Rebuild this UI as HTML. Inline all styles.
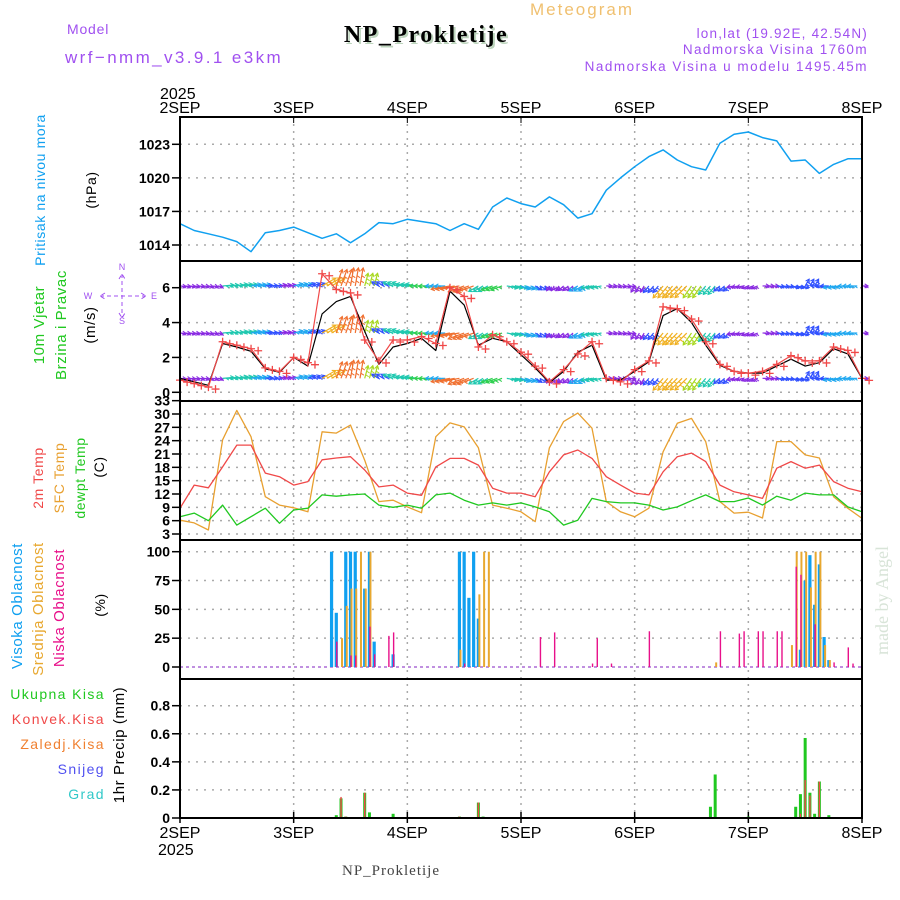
<!DOCTYPE html>
<html><head><meta charset="utf-8"><style>
html,body{margin:0;padding:0;background:#fff;}
svg{display:block;font-family:"Liberation Sans",sans-serif;}
</style></head><body>
<svg id="chart" width="900" height="900" viewBox="0 0 900 900" xmlns="http://www.w3.org/2000/svg">
<text x="582" y="15" fill="#f0c070" font-size="17" text-anchor="middle" letter-spacing="2">Meteogram</text>
<text x="67" y="34" fill="#a050f0" font-size="14" letter-spacing="0.8">Model</text>
<text x="428" y="44" fill="#bcd4bc" font-size="24" font-weight="bold" text-anchor="middle" letter-spacing="1.5" font-family="Liberation Serif,serif">NP_Prokletije</text>
<text x="426" y="42" fill="#000" font-size="24" font-weight="bold" text-anchor="middle" letter-spacing="1.5" font-family="Liberation Serif,serif">NP_Prokletije</text>
<text x="65" y="63" fill="#a050f0" font-size="17" letter-spacing="2.4">wrf−nmm_v3.9.1 e3km</text>
<text x="868" y="38" fill="#a050f0" font-size="13.5" text-anchor="end" letter-spacing="1.2">lon,lat (19.92E, 42.54N)</text>
<text x="868" y="54" fill="#a050f0" font-size="13.5" text-anchor="end" letter-spacing="1.4">Nadmorska Visina 1760m</text>
<text x="868" y="71" fill="#a050f0" font-size="13.5" text-anchor="end" letter-spacing="1.5">Nadmorska Visina u modelu 1495.45m</text>
<text x="160" y="99" fill="#000" font-size="16">2025</text>
<text x="158" y="855" fill="#000" font-size="16">2025</text>
<text x="391" y="875" fill="#444" font-size="15" text-anchor="middle" letter-spacing="1" font-family="Liberation Serif,serif">NP_Prokletije</text>
<text transform="translate(888,655) rotate(-90)" fill="#d8e4d8" font-size="18" font-family="Liberation Serif,serif">made by Angel</text>
<g id="g"></g>
</svg>
<script>
// ---------- data (3-hourly, hours 0..144 from 2SEP 00) ----------
const dayLabels = ["2SEP","3SEP","4SEP","5SEP","6SEP","7SEP","8SEP"];
const pressure = [1015.9,1015.3,1015.0,1014.7,1014.3,1013.4,1015.1,1015.3,1015.6,1015.1,1014.6,1015.0,1014.2,1015.0,1016.0,1015.9,1016.3,1016.1,1015.9,1015.3,1015.9,1015.4,1017.4,1018.2,1017.7,1017.4,1018.3,1017.6,1016.4,1016.8,1018.9,1020.0,1021.0,1021.9,1022.5,1021.6,1021.0,1020.7,1023.1,1023.9,1024.1,1023.6,1023.3,1021.5,1021.6,1020.4,1021.2,1021.7,1021.7];
const windSpeed = [0.8,0.6,0.4,2.8,2.6,2.35,1.35,1.15,2.0,1.5,4.5,5.2,5.5,3.5,1.6,2.6,2.8,3.1,2.4,5.8,5.0,2.7,3.1,2.9,2.15,1.4,0.55,1.2,2.3,2.7,0.7,0.7,1.2,1.75,4.4,4.8,4.0,2.7,1.55,1.2,1.1,1.1,1.5,1.9,1.5,1.7,2.5,2.2,0.8];
const windSpeedMarked = [0.7,0.5,0.3,2.9,2.7,2.5,1.4,1.2,2.0,1.7,6.8,5.9,5.7,3.0,1.8,3.0,3.0,3.2,2.8,6.0,5.5,2.6,3.3,2.9,2.3,1.5,0.6,1.3,2.2,2.9,0.8,0.6,1.3,1.8,4.9,4.8,4.2,2.9,1.6,1.2,1.1,1.2,1.6,2.1,1.8,1.8,2.6,2.4,0.8];
const windDir = [95,95,100,85,80,80,85,80,75,70,60,20,10,15,300,290,280,270,270,260,250,240,250,100,110,120,210,230,240,260,90,95,210,220,220,225,215,220,230,260,250,90,95,100,30,270,260,270,90];
const temp2m = [8.8,14.0,13.4,18.1,23.0,23.0,16.7,15.9,14.0,14.8,19.7,20.1,20.4,17.4,13.6,14.0,12.2,11.7,18.1,20.0,20.0,18.5,13.3,12.2,12.2,11.4,17.0,20.8,21.9,20.0,15.9,14.0,12.2,11.8,17.0,20.4,21.2,19.3,14.0,12.5,11.8,11.0,17.8,19.3,17.8,18.5,14.8,13.3,12.5];
const tempSfc = [6.1,5.5,3.9,24.2,30.8,24.9,11.4,9.5,8.9,8.0,26.0,25.7,27.5,19.6,10.3,10.6,9.1,7.8,24.9,28.0,27.1,22.4,9.5,8.8,8.0,5.8,22.4,28.3,30.2,26.8,10.3,8.0,6.9,8.8,21.5,27.9,29.0,23.8,10.3,7.7,7.9,6.6,23.8,23.8,20.8,20.1,11.4,8.8,6.5];
const tempDew = [6.9,7.7,6.0,9.5,5.0,6.9,8.8,5.4,8.4,8.8,11.8,11.5,11.8,12.0,9.5,9.0,9.5,8.8,11.8,12.2,10.6,9.5,10.0,9.5,10.0,9.1,8.0,5.0,6.1,11.0,10.3,10.0,10.0,9.5,8.4,9.1,10.5,11.8,10.3,10.3,11.1,9.5,11.5,10.6,12.2,11.8,11.8,9.1,8.0];
const highHours = [32,33,35,36,37,39,40,41,45,59,60,61,62,63,131,132,133,134,135,136,137];
const highVals  = [100,47,100,100,100,68,100,22,11,100,100,60,100,42,15,75,97,54,89,26,6];
const midHours = [34,35,36,37,38,39,40,59,63,64,65,113,129,130,131,132,133,134,135,136,137];
const midVals  = [25,53,68,68,100,68,100,15,63,100,100,4,19,100,100,100,69,100,100,19,6];
const lowHours = [33,36,37,40,41,44,45,60,76,79,87,88,91,99,114,118,119,122,123,126,127,130,131,134,138,141,142];
const lowVals  = [22,10,10,35,11,27,30,3,26,30,3,25,3,31,31,29,31,31,31,31,31,87,80,37,4,17,3];
const rainHours = [33,34,35,39,40,45,59,63,64,112,113,120,130,131,132,133,134,135,137];
const rainVals  = [0.02,0.14,0.01,0.18,0.04,0.03,0.01,0.11,0.01,0.08,0.31,0.01,0.08,0.17,0.57,0.18,0.03,0.26,0.02];
const convHours = [34,35,39,59,63,131,132,133,135];
const convVals  = [0.15,0.01,0.18,0.01,0.11,0.03,0.27,0.16,0.26];
const pTicks = [1014,1017,1020,1023];
const wTicks = [0,2,4,6];
const tTicks = [3,6,9,12,15,18,21,24,27,30,33];
const cTicks = [0,25,50,75,100];
const rTicks = [0,0.2,0.4,0.6,0.8];

// ---------- axes ----------
const X0=180, X1=862;
const xH = h => X0 + h*(X1-X0)/144;
const lin = (d0,d1,r0,r1) => v => r0 + (v-d0)*(r1-r0)/(d1-d0);
const yP = lin(1014,1023,245,144.3);
const yW = lin(0,6,392.3,287.7);
const yT = lin(3,30,534,414);
const yC = lin(0,100,667,551.7);
const yR = lin(0,0.8,818,705.7);
const panels = [[117,261],[261,401],[401,540],[540,679],[679,818]];
const NS="http://www.w3.org/2000/svg";
const G=document.getElementById('g');
function mk(tag,attrs,parent){const e=document.createElementNS(NS,tag);for(const k in attrs)e.setAttribute(k,attrs[k]);(parent||G).appendChild(e);return e;}
function txt(s,attrs){const e=mk('text',attrs);e.textContent=s;return e;}

function hgrid(ticks,yf,name){ticks.forEach(t=>{const y=yf(t);const l=mk('line',{x1:X0,x2:X1,y1:y,y2:y,stroke:'#aaa','stroke-width':1.5,'stroke-dasharray':'2,6'});

});}
hgrid(pTicks,yP,'pressure');hgrid(wTicks,yW,'wind');hgrid(tTicks,yT,'temp');hgrid(cTicks.slice(1),yC,'cloud');hgrid(rTicks.slice(1),yR,'precip');
dayLabels.forEach((d,i)=>{const x=xH(i*24);
 if(i>0&&i<6){const l=mk('line',{x1:x,x2:x,y1:117,y2:818,stroke:'#aaa','stroke-width':1.5,'stroke-dasharray':'2,5'});
 
 }
 const t1=txt(d,{x:x,y:113,'font-size':16,'text-anchor':'middle',fill:'#000'});
 
 
 const t2=txt(d,{x:x,y:838,'font-size':16,'text-anchor':'middle',fill:'#000'});
 
 
 mk('line',{x1:x,x2:x,y1:117,y2:123,stroke:'#000','stroke-width':1});
 mk('line',{x1:x,x2:x,y1:812,y2:823,stroke:'#000','stroke-width':1.5});
});
function yticks(ticks,yf,fmt,name){ticks.forEach(t=>{const y=yf(t);
 mk('line',{x1:172,x2:180,y1:y,y2:y,stroke:'#000','stroke-width':1.5});
 const e=txt(fmt(t),{x:170,y:y+5,'font-size':14,'font-weight':'bold','text-anchor':'end',fill:'#000'});
 
 });}
yticks(pTicks,yP,String,'pressure');yticks(wTicks,yW,String,'wind');yticks(tTicks,yT,String,'temp');yticks(cTicks,yC,String,'cloud');yticks(rTicks,yR,v=>v===0?'0':v.toFixed(1),'precip');

function poly(xs,ys,color,w,name){const d=xs.map((x,i)=>(i?'L':'M')+x.toFixed(1)+','+ys[i].toFixed(1)).join('');
 const p=mk('path',{d:d,fill:'none',stroke:color,'stroke-width':w,'stroke-linejoin':'round'});
 
 return p;}
const hrs = pressure.map((_,i)=>i*3);
poly(hrs.map(xH),pressure.map(yP),'#10a0f0',1.5,'pressure-line');

// wind arrows (dense, 3 per 3-hour sample)
const wColor = s => s<1.3?'#8a2be2':s<2?'#3050ff':s<2.6?'#20a8f0':s<3?'#20c8b0':s<3.5?'#30d050':s<4.2?'#a8d820':s<5?'#f0b020':'#f07030';
const rows=[6.1,3.4,0.8];
rows.forEach(r=>{windDir.forEach((d,i)=>{[0,1,2].forEach(o=>{if(i===windDir.length-1&&o>0)return;
 const x=xH(i*3+o),y=yW(r);const len=4+windSpeed[i]*2.6;
 const a=d*Math.PI/180;const x2=x+Math.sin(a)*len,y2=y-Math.cos(a)*len;const c=wColor(windSpeed[i]);
 const g=mk('g',{});
 
 
 mk('line',{x1:x,y1:y,x2:x2,y2:y2,stroke:c,'stroke-width':1.2},g);
 const h1=a+2.6,h2=a-2.6;
 mk('path',{d:`M${x2+Math.sin(h1)*4},${y2-Math.cos(h1)*4}L${x2},${y2}L${x2+Math.sin(h2)*4},${y2-Math.cos(h2)*4}`,fill:'none',stroke:c,'stroke-width':1.1},g);
 for(let k=1;k<3;k++){const xm=x+(x2-x)*k/3.5,ym=y+(y2-y)*k/3.5;mk('line',{x1:xm,y1:ym,x2:xm+3,y2:ym+2,stroke:c,'stroke-width':1},g);}
});});});
poly(hrs.map(xH),windSpeed.map(yW),'#000',1.2,'wind-speed-line');
poly(hrs.map(xH),windSpeedMarked.map(yW),'#f04848',1.2,'wind-speed-marked-line');
windSpeedMarked.forEach((v,i)=>{[0,1.5].forEach(dh=>{const x=xH(i*3+dh),y=yW(v)+ (dh?2:0);
 const p=mk('path',{d:`M${x-4},${y}H${x+4}M${x},${y-4}V${y+4}`,stroke:'#f04848','stroke-width':1.3});
 
 });});

// temps
poly(hrs.map(xH),tempSfc.map(yT),'#e8a030',1.3,'sfc-temp-line');
poly(hrs.map(xH),temp2m.map(yT),'#f04848',1.3,'2m-temp-line');
poly(hrs.map(xH),tempDew.map(yT),'#20c820',1.3,'dewpoint-line');

// clouds
const cb=mk('line',{x1:X0,x2:X1,y1:yC(0),y2:yC(0),stroke:'#c090e0','stroke-width':2,'stroke-dasharray':'3,3'});


function bars(hs,vs,yf,color,w,off,name){hs.forEach((h,i)=>{const x=xH(h)+off,y=yf(vs[i]),y0=yf(0);
 const r=mk('rect',{x:x-w/2,y:y,width:w,height:Math.max(0.5,y0-y),fill:color});
 
 });}
bars(highHours,highVals,yC,'#10a0f0',3.2,0,'high-cloud-bar');
bars(midHours,midVals,yC,'#e8a830',2,1,'mid-cloud-bar');
bars(lowHours,lowVals,yC,'#e8108a',1.4,0.5,'low-cloud-bar');
bars(rainHours,rainVals,yR,'#20c820',3,0,'total-precip-bar');
bars(convHours,convVals,yR,'#f04848',1.4,0,'convective-precip-bar');

panels.forEach((p,i)=>{const r=mk('rect',{x:X0,y:p[0],width:X1-X0,height:p[1]-p[0],fill:'none',stroke:'#000','stroke-width':2});
 
 });

function vt(s,x,y,color,size,name){const e=txt(s,{transform:`translate(${x},${y}) rotate(-90)`,fill:color,'font-size':size,'text-anchor':'middle','letter-spacing':'0.6'});
 
 }
vt('Pritisak na nivou mora',45,190,'#10a0f0',14,'pressure-axis-title');
vt('(hPa)',96,190,'#000',14,'pressure-unit');
vt('10m Vjetar',44,325,'#20c820',15,'wind-axis-title');
vt('Brzina i Pravac',66,325,'#20c820',15,'wind-axis-subtitle');
vt('(m/s)',95,325,'#000',15,'wind-unit');
vt('2m Temp',43,478,'#f04848',14,'temp2m-axis-title');
vt('SFC Temp',64,478,'#e8a030',14,'sfc-axis-title');
vt('dewpt Temp',85,478,'#20c820',14,'dew-axis-title');
vt('(C)',104,467,'#000',14,'temp-unit');
vt('Visoka Oblacnost',22,606,'#10a0f0',15,'high-cloud-axis-title');
vt('Srednja Oblacnost',43,609,'#e8a830',15,'mid-cloud-axis-title');
vt('Niska Oblacnost',64,608,'#e8108a',15,'low-cloud-axis-title');
vt('(%)',105,605,'#000',14,'cloud-unit');
vt('1hr Precip (mm)',124,745,'#000',15,'precip-axis-title');
[['Ukupna  Kisa','#20c820',699],['Konvek.Kisa','#f04848',724],['Zaledj.Kisa','#f08030',749],['Snijeg','#5050f0',774],['Grad','#30c8c8',799]].forEach(a=>{
 const e=txt(a[0],{x:105,y:a[2],fill:a[1],'font-size':14,'text-anchor':'end','letter-spacing':'1.4'});
 
 });
[['N',122,270],['S',122,324],['W',88,299],['E',154,299]].forEach(a=>{const e=txt(a[0],{x:a[1],y:a[2],fill:'#a050f0','font-size':9,'text-anchor':'middle'});
 
 });
const cp=mk('path',{d:'M100,296H146M141,293L146,296L141,299M105,293L100,296L105,299M122,274V318M119,279L122,274L125,279M119,313L122,318L125,313',stroke:'#a050f0','stroke-width':1,fill:'none','stroke-dasharray':'4,3'});


</script>
</body></html>
